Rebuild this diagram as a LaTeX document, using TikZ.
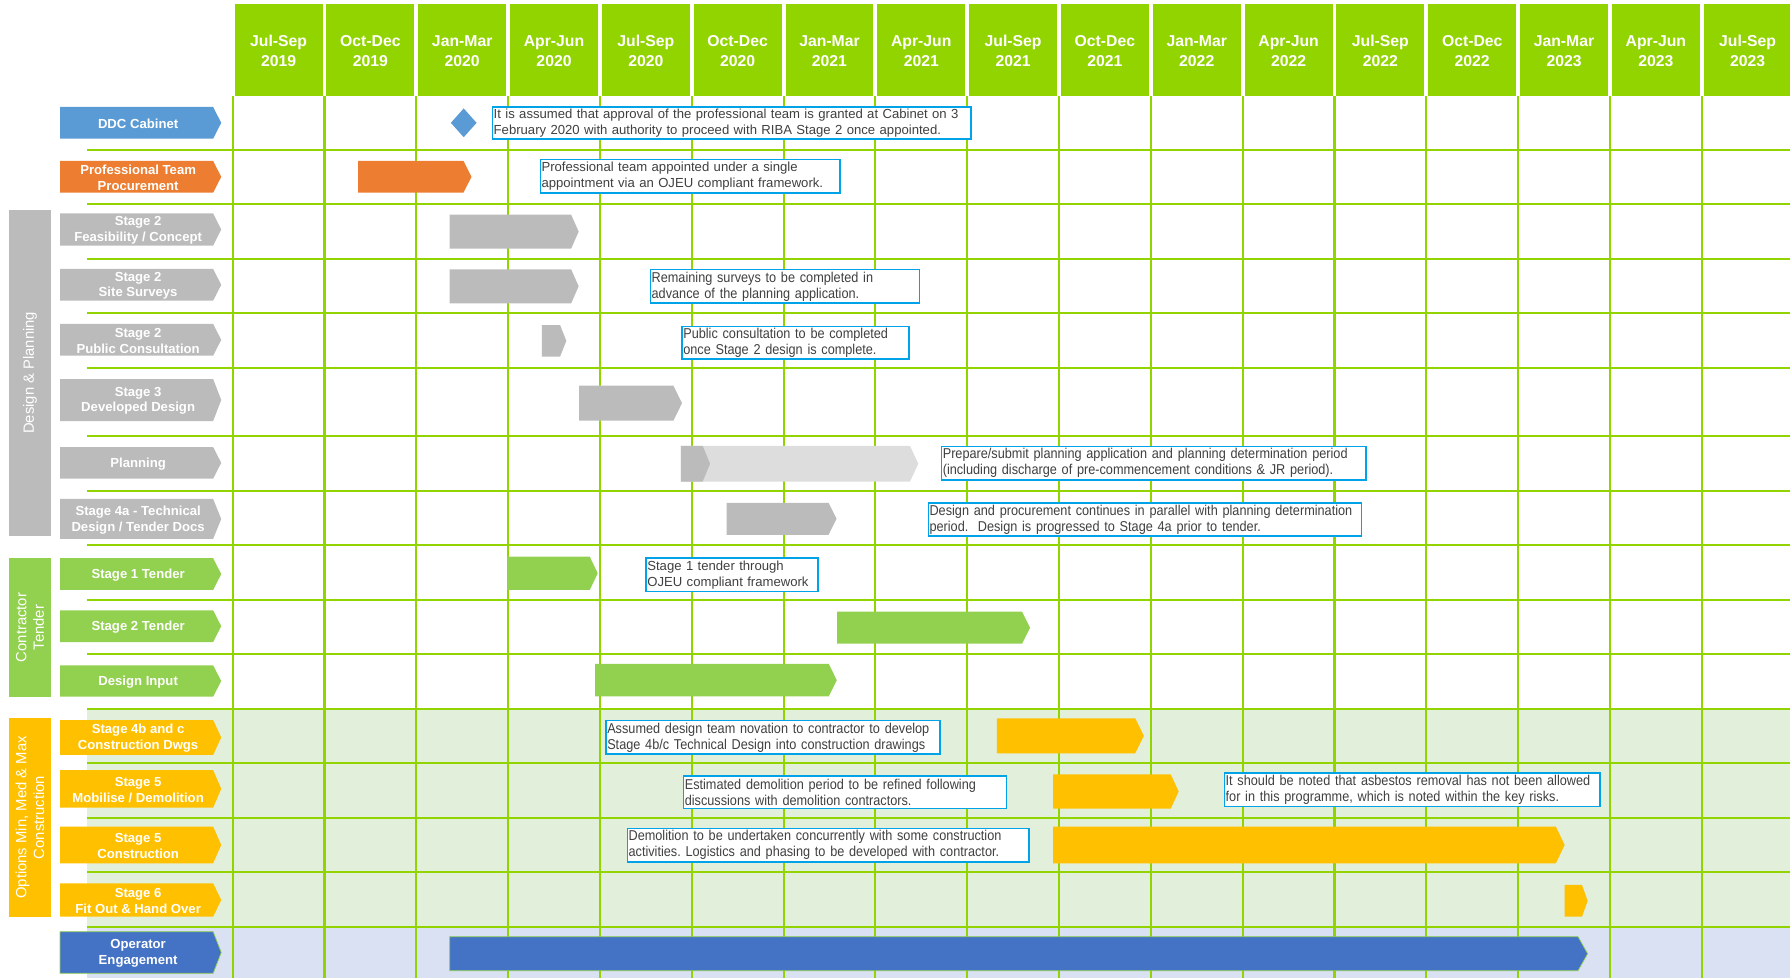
\documentclass[tikz,border=0pt]{standalone}
\usepackage{fontspec}
\setmainfont{Liberation Sans}
\newfontfamily\narrowfont[FakeStretch=0.89]{Liberation Sans}
\usetikzlibrary{shapes.geometric}

\definecolor{gridgreen}{RGB}{146,212,0}
\definecolor{ddcblue}{RGB}{91,155,213}
\definecolor{teamorange}{RGB}{237,125,49}
\definecolor{stagegrey}{RGB}{187,187,187}
\definecolor{lightgrey}{RGB}{221,221,221}
\definecolor{tendergreen}{RGB}{146,208,80}
\definecolor{buildyellow}{RGB}{255,192,0}
\definecolor{opblue}{RGB}{68,114,196}
\definecolor{noteblue}{RGB}{0,162,232}
\definecolor{notetext}{RGB}{64,64,64}
\definecolor{bggreen}{RGB}{226,239,218}
\definecolor{bgblue}{RGB}{217,225,242}

\newcommand\taskbar[6][7]{\fill[#2] (#3,#5) -- ({#4-#1},#5) -- (#4,{(#5+#6)/2}) -- ({#4-#1},#6) -- (#3,#6) -- cycle;}
\newcommand\stagelab[5]{\taskbar[7.1]{#2}{52.6}{193.8}{#3}{#4}\node[lab] (#1) at (121,{(#3+#4)/2}) {#5};}

\tikzset{
  hdr/.style={text=white, font=\fontsize{13.8}{17.5}\selectfont\bfseries, align=center},
  lab/.style={text=white, font=\fontsize{11.5}{13.7}\selectfont\bfseries, align=center, yshift=-0.8pt},
  grp/.style={text=white, font=\fontsize{13}{15.5}\selectfont, align=center, rotate=90},
  note/.style={draw=noteblue, line width=1.3pt, fill=white, text=notetext, inner xsep=1pt, inner ysep=0pt, align=left, anchor=north west, font=\fontsize{11.5}{14}\selectfont},
  narrow/.style={font=\narrowfont\fontsize{12.5}{14}\selectfont},
  gline/.style={draw=gridgreen, line width=1.8pt}
}

\begin{document}
\frenchspacing
\begin{tikzpicture}[x=1pt,y=-1pt]
\useasboundingbox (0,0) rectangle (1568,857);
\clip (0,0) rectangle (1568,857);

\fill[bggreen] (76.4,621) rectangle (1568,811.7);
\fill[bgblue] (76.4,811.7) rectangle (1568,857);
\foreach \y in {131.4,179,226.6,274.5,322.4,382.2,429.8,477.4,525.6,573.2,621,668.6,716.2,764.1,811.7}
  \draw[gline] (76.4,\y) -- (1568,\y);
\foreach \i in {0,...,17}
  \draw[gline] ({203.8+80.43*\i},83.8) -- ({203.8+80.43*\i},857);

\foreach \m/\yr [count=\i from 0] in {Jul-Sep/2019,Oct-Dec/2019,Jan-Mar/2020,Apr-Jun/2020,Jul-Sep/2020,Oct-Dec/2020,Jan-Mar/2021,Apr-Jun/2021,Jul-Sep/2021,Oct-Dec/2021,Jan-Mar/2022,Apr-Jun/2022,Jul-Sep/2022,Oct-Dec/2022,Jan-Mar/2023,Apr-Jun/2023,Jul-Sep/2023}{
  \fill[gridgreen] ({203.8+80.43*\i+1.7},3.5) rectangle ({203.8+80.43*(\i+1)-1.7},83.8);
  \node[hdr] (q\i) at ({203.8+80.43*(\i+0.5)},44.4) {\m\\\yr};
}

\fill[stagegrey] (8,184) rectangle (44.6,469.2);
\node[grp] (design) at (26.3,326.6) {Design \& Planning};
\fill[tendergreen] (8,489) rectangle (44.6,610.3);
\node[grp] (tender) at (26.3,549.7) {Contractor\\Tender};
\fill[buildyellow] (8,629.2) rectangle (44.6,803);
\node[grp] (build) at (26.3,716.1) {Options Min, Med \& Max\\Construction};

\stagelab{ddc}{ddcblue}{93.7}{121.5}{DDC Cabinet}
\stagelab{team}{teamorange}{141}{168.8}{Professional Team\\Procurement}
\stagelab{feas}{stagegrey}{186.9}{215.2}{Stage 2\\Feasibility / Concept}
\stagelab{surv}{stagegrey}{235.6}{263.4}{Stage 2\\Site Surveys}
\stagelab{cons}{stagegrey}{283.8}{311.6}{Stage 2\\Public Consultation}
\stagelab{devd}{stagegrey}{332}{368.8}{Stage 3\\Developed Design}
\stagelab{plan}{stagegrey}{391.6}{419.3}{Planning}
\stagelab{tech}{stagegrey}{437.1}{472.1}{Stage 4a - Technical\\Design / Tender Docs}
\stagelab{tendA}{tendergreen}{489}{516.8}{Stage 1 Tender}
\stagelab{tendB}{tendergreen}{534.6}{562.4}{Stage 2 Tender}
\stagelab{dinp}{tendergreen}{582.8}{610.3}{Design Input}
\stagelab{dwgs}{buildyellow}{630.7}{661.3}{Stage 4b and c\\Construction Dwgs}
\stagelab{demo}{buildyellow}{674.5}{707.5}{Stage 5\\Mobilise / Demolition}
\stagelab{cnst}{buildyellow}{724.1}{756.2}{Stage 5\\Construction}
\stagelab{fitout}{buildyellow}{773.8}{803}{Stage 6\\Fit Out \& Hand Over}
\stagelab{oper}{opblue, draw=tendergreen, line width=0.6pt}{816.1}{852.6}{Operator\\Engagement}

\node[diamond, fill=ddcblue, minimum width=22.7pt, minimum height=25.4pt, inner sep=0pt] (cabinet) at (406.2,107.6) {};
\taskbar{teamorange}{313.8}{413}{141}{168.8}
\taskbar[6.6]{stagegrey}{393.9}{506.9}{188}{217.8}
\taskbar[6.6]{stagegrey}{393.9}{506.9}{235.9}{265.7}
\taskbar[5.5]{stagegrey}{474.7}{496.1}{284.7}{312.4}
\taskbar[7.5]{stagegrey}{507.4}{597.4}{337.8}{368.5}
\taskbar[7.3]{lightgrey}{596.4}{804.4}{390.5}{421.9}
\taskbar[6.5]{stagegrey}{596.4}{622}{390.5}{421.9}
\taskbar{stagegrey}{636.6}{732.8}{440.4}{468.5}
\taskbar{tendergreen}{444.2}{523.6}{487.6}{516.8}
\taskbar{tendergreen}{733.3}{902.3}{535.8}{563.8}
\taskbar{tendergreen}{521.2}{733}{581.6}{610}
\taskbar[7.6]{buildyellow}{873.2}{1002}{629.2}{659.9}
\taskbar{buildyellow}{922.4}{1032.5}{678.3}{708.4}
\taskbar[7.7]{buildyellow}{922.4}{1370.6}{724.1}{756.2}
\taskbar[4.9]{buildyellow}{1370.6}{1390.7}{775.2}{803}
\taskbar[8.4]{opblue, draw=tendergreen, line width=0.6pt}{393.9}{1390.7}{820.5}{850.3}

\node[note, text width=417.2pt, minimum height=28.3pt] (cabnote) at (430.8,92.9) {It is assumed that approval of the professional team is granted at Cabinet on 3\\February 2020 with authority to proceed with RIBA Stage 2 once appointed.};
\node[note, text width=260.3pt, minimum height=29.2pt] (teamnote) at (472.7,139) {Professional team appointed under a single\\appointment via an OJEU compliant framework.};
\node[note, narrow, text width=233.8pt, minimum height=29.2pt] (survnote) at (569.2,235.6) {Remaining surveys to be completed in\\advance of the planning application.};
\node[note, narrow, text width=196.7pt, minimum height=28.6pt] (consnote) at (596.9,285.3) {Public consultation to be completed\\once Stage 2 design is complete.};
\node[note, narrow, text width=369.6pt, minimum height=29.2pt] (plannote) at (824.2,390.4) {Prepare/submit planning application and planning determination period\\(including discharge of pre-commencement conditions \& JR period).};
\node[note, narrow, text width=377.6pt, minimum height=28.9pt] (technote) at (812.6,440) {Design and procurement continues in parallel with planning determination\\period.\ \ Design is progressed to Stage 4a prior to tender.};
\node[note, text width=148.4pt, minimum height=29.2pt] (tendnote) at (565.4,488.2) {Stage 1 tender through\\OJEU compliant framework};
\node[note, narrow, text width=290.3pt, minimum height=29.2pt] (dwgsnote) at (530.3,630.7) {Assumed design team novation to contractor to develop\\Stage 4b/c Technical Design into construction drawings};
\node[note, narrow, text width=280.6pt, minimum height=28.6pt] (demonote) at (598.2,678.9) {Estimated demolition period to be refined following\\discussions with demolition contractors.};
\node[note, narrow, text width=327pt, minimum height=29.3pt] (asbnote) at (1072,676.5) {It should be noted that asbestos removal has not been allowed\\for in this programme, which is noted within the key risks.};
\node[note, narrow, text width=349.8pt, minimum height=29.5pt] (cnstnote) at (549,725) {Demolition to be undertaken concurrently with some construction\\activities. Logistics and phasing to be developed with contractor.};
\end{tikzpicture}
\end{document}
